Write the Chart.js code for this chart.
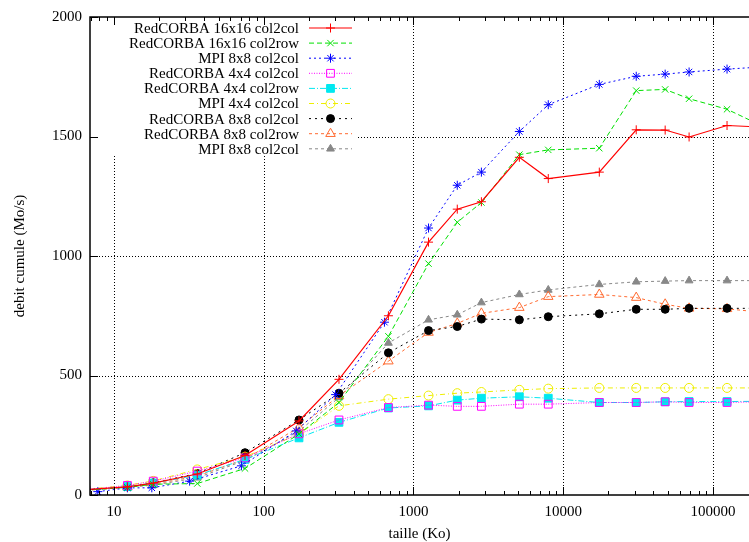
<!DOCTYPE html>
<html>
<head>
<meta charset="utf-8">
<script src="https://cdn.jsdelivr.net/npm/chart.js@4.4.0/dist/chart.umd.min.js"></script>
<style>
html, body { margin: 0; padding: 0; background: #fff; }
canvas { display: block; }
</style>
</head>
<body>
<canvas id="Chart" width="749" height="542"></canvas>
<script>
// tailles des messages (Ko)
const taille = [6.5, 12.3, 18.3, 36, 75, 172, 318, 680, 1260, 1960, 2840, 5090, 7940, 17400, 30700, 47900, 69200, 124000, 200000];
const tailleMpi8 = [7.8, 12.3, 17.9, 32, 71, 165, 302, 640, 1260, 1960, 2840, 5090, 7940, 17400, 30700, 47900, 69200, 124000, 200000];

// debit cumule (Mo/s)
const red16col2col = [22, 34, 50, 88, 165, 310, 484, 750, 1058, 1196, 1227, 1413, 1324, 1351, 1528, 1527, 1498, 1546, 1540];
const red16col2row = [20, 32, 45, 48, 111, 255, 387, 664, 968, 1141, 1224, 1424, 1444, 1451, 1692, 1697, 1658, 1614, 1552];
const mpi8col2colA = [14, 30, 30, 58, 122, 268, 420, 723, 1117, 1296, 1351, 1521, 1633, 1718, 1752, 1761, 1770, 1782, 1790];
const red4col2col = [22, 40, 58, 100, 155, 256, 314, 366, 376, 371, 371, 380, 380, 387, 387, 390, 387, 387, 390];
const red4col2row = [20, 35, 50, 83, 149, 239, 304, 364, 373, 397, 405, 411, 405, 387, 387, 390, 391, 391, 392];
const mpi4col2col = [24, 40, 59, 107, 160, 255, 373, 401, 416, 426, 431, 440, 445, 448, 448, 448, 448, 448, 448];
const red8col2col = [22, 34, 51, 90, 177, 314, 426, 595, 688, 705, 736, 733, 746, 758, 777, 777, 781, 781, 781];
const red8col2row = [20, 33, 45, 79, 150, 283, 415, 560, 680, 718, 760, 784, 830, 839, 826, 798, 781, 779, 766];
const mpi8col2colB = [20, 33, 41, 72, 145, 267, 408, 636, 733, 754, 805, 839, 858, 881, 892, 895, 897, 897, 897];

const xTicks = [10, 100, 1000, 10000, 100000];
const yTicks = [0, 500, 1000, 1500, 2000];
const xMin = 6.92, xMax = 173800;

const serif = { family: '"Liberation Serif", "DejaVu Serif", serif', size: 15 };

function serie(label, xs, ys, color, dash, style, radius, filled, width) {
    return {
        label: label,
        data: xs.map((v, i) => ({ x: v, y: ys[i] })),
        borderColor: color,
        backgroundColor: color,
        borderWidth: width || 1,
        borderDash: dash,
        pointStyle: style,
        pointRadius: radius,
        pointBorderColor: color,
        pointBackgroundColor: filled ? color : 'rgba(0,0,0,0)',
        pointBorderWidth: 1,
        tension: 0,
        fill: false
    };
}

let datasets = [
    serie('RedCORBA 16x16 col2col', taille, red16col2col, '#ff0000', [], 'cross', 4.5, false, 1.2),
    serie('RedCORBA 16x16 col2row', taille, red16col2row, '#00e000', [5, 3], 'crossRot', 4.5, false),
    serie('MPI 8x8 col2col', tailleMpi8, mpi8col2colA, '#0000ff', [2, 3], 'star', 4.5, false),
    serie('RedCORBA 4x4 col2col', taille, red4col2col, '#ff00ff', [1, 1.5], 'rect', 5.5, false),
    serie('RedCORBA 4x4 col2row', taille, red4col2row, '#00e8f0', [6, 2, 1, 2], 'rect', 5.5, true),
    serie('MPI 4x4 col2col', taille, mpi4col2col, '#eeee00', [5, 3, 1, 3], 'circle', 4.5, false),
    serie('RedCORBA 8x8 col2col', taille, red8col2col, '#000000', [2, 4], 'circle', 4, true),
    serie('RedCORBA 8x8 col2row', taille, red8col2row, '#ff6a30', [3, 3], 'triangle', 5.5, false),
    serie('MPI 8x8 col2col', taille, mpi8col2colB, '#888888', [3, 3], 'triangle', 4.5, true)
];

// legende a droite du texte, comme gnuplot
const legendBox = { right: 358, bottom: 156 };

const gnuplotLook = {
    id: 'gnuplotLook',
    beforeDatasetsDraw(chart) {
        const { ctx, chartArea: a, scales: { x, y } } = chart;
        ctx.save();
        ctx.strokeStyle = '#000';
        ctx.lineWidth = 1;
        ctx.setLineDash([1, 2]);
        ctx.beginPath();
        xTicks.forEach(v => {
            const px = Math.round(x.getPixelForValue(v)) + 0.5;
            const top = px < legendBox.right ? legendBox.bottom : a.top;
            ctx.moveTo(px, top);
            ctx.lineTo(px, a.bottom);
        });
        yTicks.slice(1, -1).forEach(v => {
            const py = Math.round(y.getPixelForValue(v)) + 0.5;
            const left = py < legendBox.bottom ? legendBox.right : a.left;
            ctx.moveTo(left, py);
            ctx.lineTo(a.right, py);
        });
        ctx.stroke();
        ctx.restore();
    },
    afterDatasetsDraw(chart) {
        const { ctx, chartArea: a, scales: { x, y } } = chart;
        ctx.save();
        ctx.setLineDash([]);
        ctx.strokeStyle = '#000';
        ctx.lineWidth = 1;
        ctx.beginPath();
        // minor + major ticks on x
        for (let d = 1; d < 1e6; d *= 10) {
            for (let m = 1; m < 10; m++) {
                const v = d * m;
                if (v < xMin || v > xMax) continue;
                const len = m === 1 ? 8 : 4;
                const px = Math.round(x.getPixelForValue(v)) + 0.5;
                ctx.moveTo(px, a.bottom);
                ctx.lineTo(px, a.bottom - len);
                ctx.moveTo(px, a.top);
                ctx.lineTo(px, a.top + len);
            }
        }
        yTicks.forEach(v => {
            const py = Math.round(y.getPixelForValue(v)) + 0.5;
            ctx.moveTo(a.left, py);
            ctx.lineTo(a.left + 8, py);
        });
        ctx.stroke();
        ctx.lineWidth = 1.5;
        ctx.strokeRect(a.left, a.top, a.right - a.left + 4, a.bottom - a.top);

        // legend
        ctx.font = serif.size + 'px ' + serif.family;
        ctx.textAlign = 'right';
        ctx.textBaseline = 'middle';
        chart.data.datasets.forEach((ds, i) => {
            const yy = 28 + i * 15.1;
            ctx.fillStyle = '#000';
            ctx.fillText(ds.label, 299, yy + 1);
            ctx.strokeStyle = ds.borderColor;
            ctx.lineWidth = ds.borderWidth;
            ctx.setLineDash(ds.borderDash);
            ctx.beginPath();
            ctx.moveTo(309, yy);
            ctx.lineTo(352, yy);
            ctx.stroke();
            ctx.setLineDash([]);
            ctx.lineWidth = 1;
            ctx.fillStyle = ds.pointBackgroundColor;
            Chart.helpers.drawPoint(ctx, {
                pointStyle: ds.pointStyle, radius: ds.pointRadius, rotation: 0, borderWidth: 1
            }, 330.5, yy);
        });
        ctx.restore();
    }
};

let graphTarget = document.getElementById('Chart');
let lineGraph = new Chart(graphTarget, {
    type: 'line',
    data: { datasets: datasets },
    options: {
        responsive: false,
        animation: false,
        layout: { autoPadding: false, padding: { top: 13, right: 0, bottom: 0, left: 0 } },
        plugins: { legend: { display: false }, tooltip: { enabled: false } },
        scales: {
            x: {
                type: 'logarithmic',
                min: xMin,
                max: xMax,
                grid: { display: false, drawTicks: false },
                border: { display: false },
                afterBuildTicks: s => { s.ticks = xTicks.map(v => ({ value: v })); },
                afterFit: s => { s.height = 47; s.paddingRight = 0; },
                ticks: {
                    color: '#000', font: serif, padding: 8,
                    maxRotation: 0, autoSkip: false,
                    callback: v => String(v)
                },
                title: {
                    display: true, text: 'taille (Ko)', color: '#000',
                    font: Object.assign({}, serif, { lineHeight: 1 }), padding: 0
                }
            },
            y: {
                min: 0,
                max: 2000,
                grid: { display: false, drawTicks: false },
                border: { display: false },
                afterBuildTicks: s => { s.ticks = yTicks.map(v => ({ value: v })); },
                afterFit: s => { s.width = 90; },
                ticks: { color: '#000', font: serif, padding: 8, callback: v => String(v) },
                title: {
                    display: true, text: 'debit cumule (Mo/s)', color: '#000',
                    font: Object.assign({}, serif, { lineHeight: 1 }), padding: { top: 13, bottom: 0 }
                }
            }
        }
    },
    plugins: [gnuplotLook]
});
</script>
</body>
</html>
